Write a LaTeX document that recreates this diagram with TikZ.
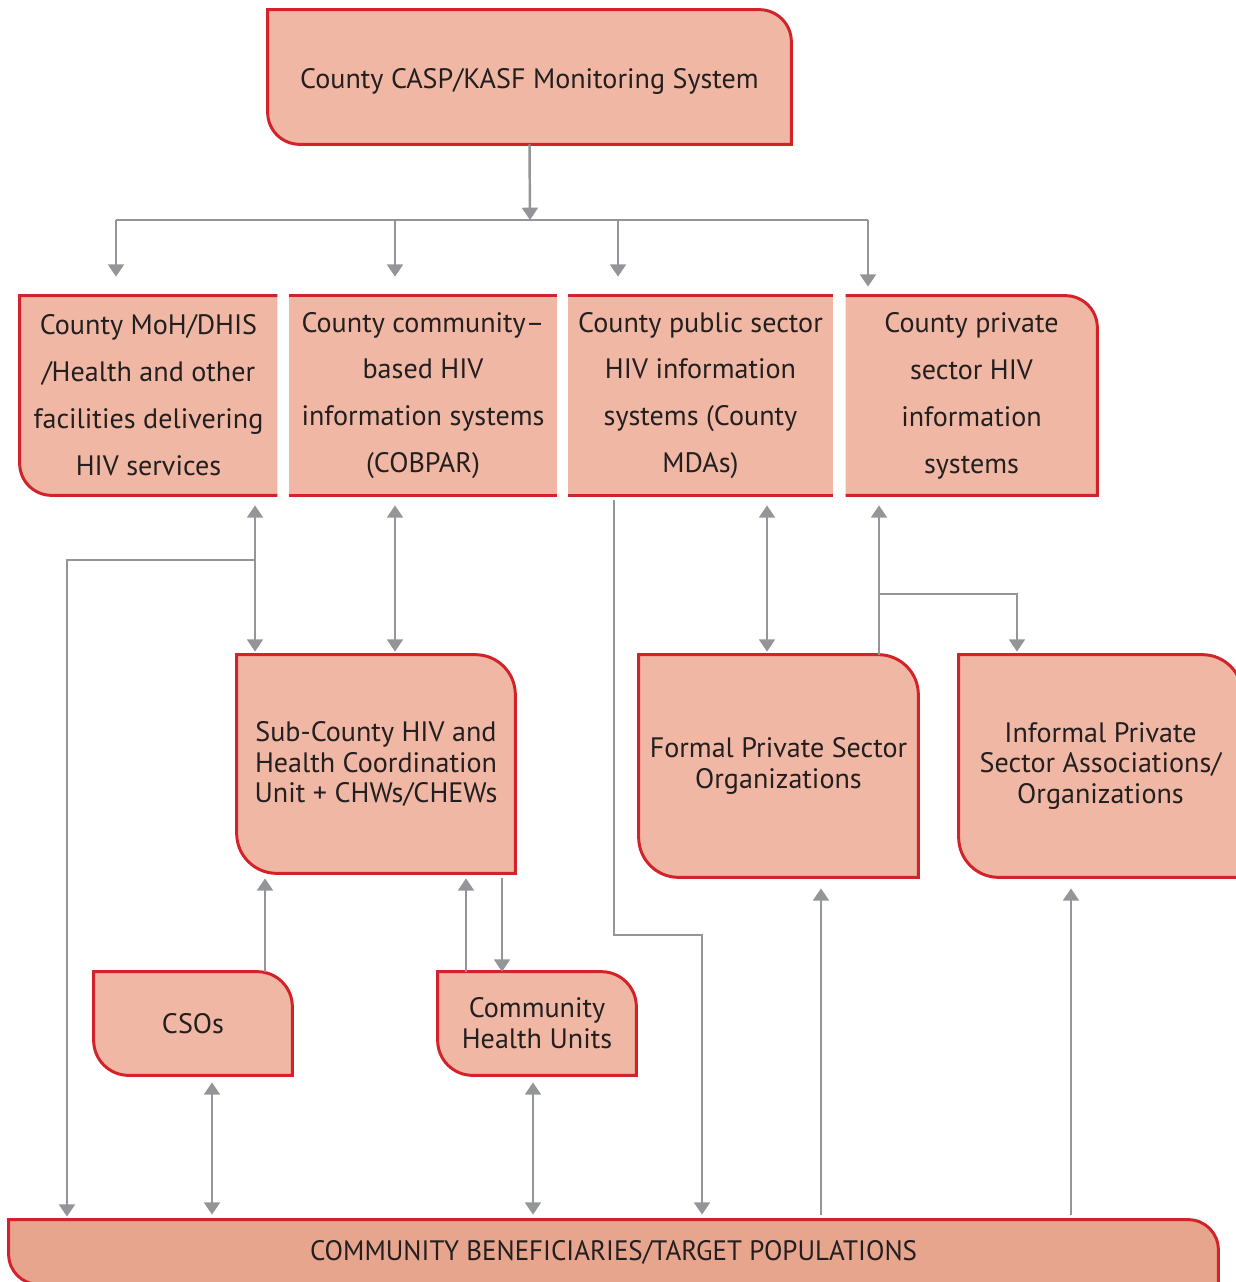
\documentclass[tikz,border=0pt]{standalone}
\usepackage{fontspec}
\usepackage{graphicx}
\setmainfont{PT Sans}
\usetikzlibrary{arrows.meta,backgrounds}

\definecolor{boxfill}{HTML}{F0B8A4}
\definecolor{basefill}{HTML}{E8A58E}
\definecolor{boxred}{HTML}{D2232A}
\definecolor{linegrey}{HTML}{939598}
\definecolor{ink}{HTML}{231F20}

\tikzset{
  edge/.style={draw=boxred, line width=1.7pt},
  txt/.style={inner sep=0pt, align=center, text=ink, font=\fontsize{16}{17.6}\selectfont},
  wide/.style={txt, font=\fontsize{16}{26.7}\selectfont},
  wire/.style={draw=linegrey, line width=1.4pt},
  conn/.style={wire, -{Triangle[width=9pt,length=7pt]}},
  both/.style={wire, {Triangle[width=9pt,length=7pt]}-{Triangle[width=9pt,length=7pt]}},
}

\begin{document}
\begin{tikzpicture}[x=0.02cm, y=0.02cm]
    \useasboundingbox (0,0) rectangle (1236,-1282);
    \clip (0,0) rectangle (1236,-1282);

    % boxes
    \node[txt, minimum width=523*0.02cm, minimum height=134*0.02cm] (top) at (529.5,-77) {\raisebox{-0.22cm}[0pt][0pt]{County CASP/KASF Monitoring System}};
    \node[wide, minimum width=257*0.02cm, minimum height=199*0.02cm] (m1) at (148.5,-395.5) {County MoH/DHIS\\/Health and other\\facilities delivering\\HIV services};
    \node[wide, minimum width=268*0.02cm, minimum height=199*0.02cm] (m2) at (423,-395.5) {County community--\\based HIV\\information systems\\(COBPAR)};
    \node[wide, minimum width=265*0.02cm, minimum height=199*0.02cm] (m3) at (700.5,-395.5) {County public sector\\HIV information\\systems (County\\MDAs)};
    \node[wide, minimum width=251*0.02cm, minimum height=199*0.02cm] (m4) at (971.5,-395.5) {County private\\sector HIV\\information\\systems};
    \node[txt, minimum width=278*0.02cm, minimum height=218*0.02cm] (sub) at (376,-764) {Sub-County HIV and\\Health Coordination\\Unit + CHWs/CHEWs};
    \node[txt, minimum width=279*0.02cm, minimum height=222*0.02cm] (formal) at (778.5,-766) {Formal Private Sector\\Organizations};
    \node[txt, minimum width=283*0.02cm, minimum height=222*0.02cm] (informal) at (1100.5,-766) {Informal Private\\Sector Associations/\\Organizations};
    \node[txt, minimum width=198*0.02cm, minimum height=103*0.02cm] (cso) at (193,-1023.5) {CSOs};
    \node[txt, minimum width=198*0.02cm, minimum height=103*0.02cm] (chu) at (537,-1023.5) {Community\\Health Units};
    \node[txt, minimum width=1209*0.02cm, minimum height=64*0.02cm] (base) at (613.5,-1252) {\scalebox{0.96}[1]{COMMUNITY BENEFICIARIES/TARGET POPULATIONS}};

    \begin{scope}[on background layer]
        \foreach \n/\r in {top/0.64cm, sub/0.8cm, formal/0.8cm, informal/0.8cm, cso/0.7cm, chu/0.7cm} {
            \draw[edge, fill=boxfill] (\n.north west) -- ([xshift=-\r]\n.north east) arc[start angle=90, end angle=0, radius=\r]
                -- (\n.south east) -- ([xshift=\r]\n.south west) arc[start angle=270, end angle=180, radius=\r] -- cycle;
        }
        \draw[edge, fill=basefill] (base.north west) -- ([xshift=-0.6cm]base.north east) arc[start angle=90, end angle=0, radius=0.6cm]
            -- (base.south east) -- ([xshift=0.6cm]base.south west) arc[start angle=270, end angle=180, radius=0.6cm] -- cycle;
        % middle row
        \fill[boxfill] (m1.north east) -- (m1.north west) -- ([yshift=0.64cm]m1.south west) arc[start angle=180, end angle=270, radius=0.64cm] -- (m1.south east) -- cycle;
        \draw[edge] (m1.north east) -- (m1.north west) -- ([yshift=0.64cm]m1.south west) arc[start angle=180, end angle=270, radius=0.64cm] -- (m1.south east);
        \foreach \n in {m2, m3} {
            \fill[boxfill] (\n.south west) rectangle (\n.north east);
            \draw[edge] (\n.north west) -- (\n.north east) (\n.south west) -- (\n.south east);
        }
        \fill[boxfill] (m4.north west) -- ([xshift=-0.64cm]m4.north east) arc[start angle=90, end angle=0, radius=0.64cm] -- (m4.south east) -- (m4.south west) -- cycle;
        \draw[edge] (m4.north west) -- ([xshift=-0.64cm]m4.north east) arc[start angle=90, end angle=0, radius=0.64cm] -- (m4.south east) -- (m4.south west);
    \end{scope}

    % lanes
    \coordinate (split) at (530,-220);
    \coordinate (bar1) at (116,-220);
    \coordinate (bar2) at (395,-220);
    \coordinate (bar3) at (618,-220);
    \coordinate (bar4) at (868,-220);
    \coordinate (hub) at (255,-560);
    \coordinate (west) at (67,-560);
    \coordinate (mid2) at (395,-560);
    \coordinate (pubturn) at (614,-935);
    \coordinate (pubdrop) at (702,-935);
    \coordinate (pubx) at (767,-560);
    \coordinate (privhub) at (879,-594);
    \coordinate (privturn) at (1017,-594);
    \coordinate (csoup) at (265,-925);
    \coordinate (chuup) at (466,-925);
    \coordinate (chudown) at (502,-925);
    \coordinate (csobase) at (212,-1150);
    \coordinate (chubase) at (533,-1150);
    \coordinate (formbase) at (821,-1050);
    \coordinate (infbase) at (1071,-1050);

    % connectors
    \draw[conn] (top.south) -- (split);
    \draw[wire] (bar1) -- (bar4);
    \foreach \b in {1,2,3} {
        \draw[conn, shorten >=0.38cm] (bar\b) -- (bar\b |- m1.north);
    }
    \draw[conn, shorten >=0.18cm] (bar4) -- (bar4 |- m4.north);

    \draw[both, shorten <=0.2cm, shorten >=0.06cm] (hub |- m1.south) -- (hub |- sub.north);
    \draw[conn, shorten >=0.06cm] (hub) -- (west) -- (west |- base.north);
    \draw[both, shorten <=0.2cm, shorten >=0.06cm] (mid2 |- m2.south) -- (mid2 |- sub.north);
    \draw[conn, shorten <=0.1cm, shorten >=0.1cm] (pubturn |- m3.south) -- (pubturn) -- (pubdrop) -- (pubdrop |- base.north);
    \draw[both, shorten <=0.2cm, shorten >=0.06cm] (pubx |- m3.south) -- (pubx |- formal.north);
    \draw[conn, shorten >=0.2cm] (privhub |- formal.north) -- (privhub |- m4.south);
    \draw[conn, shorten >=0.06cm] (privhub) -- (privturn) -- (privturn |- informal.north);

    \draw[conn, shorten >=0.1cm] (csoup |- cso.north) -- (csoup |- sub.south);
    \draw[conn, shorten >=0.1cm] (chuup |- chu.north) -- (chuup |- sub.south);
    \draw[conn, shorten <=0.1cm] (chudown |- sub.south) -- (chudown |- chu.north);
    \draw[both, shorten <=0.14cm, shorten >=0.1cm] (csobase |- cso.south) -- (csobase |- base.north);
    \draw[both, shorten <=0.14cm, shorten >=0.1cm] (chubase |- chu.south) -- (chubase |- base.north);
    \draw[conn, shorten <=0.1cm, shorten >=0.22cm] (formbase |- base.north) -- (formbase |- formal.south);
    \draw[conn, shorten <=0.1cm, shorten >=0.22cm] (infbase |- base.north) -- (infbase |- informal.south);
\end{tikzpicture}
\end{document}
